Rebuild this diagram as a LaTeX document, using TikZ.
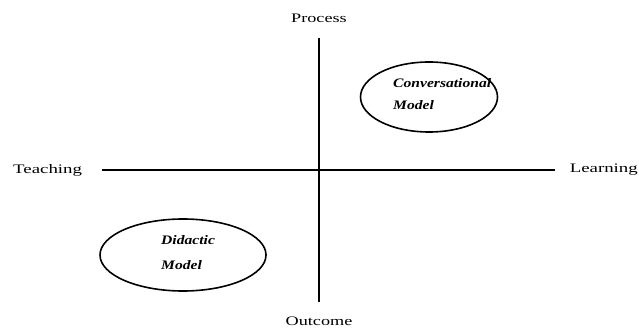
\documentclass[tikz,border=0pt]{standalone}
\usepackage{fontspec}
\setmainfont{Liberation Serif}
\usetikzlibrary{shapes.geometric}
\begin{document}
\begin{tikzpicture}[x=1pt,y=-1pt,
  axis/.style={line width=1.6pt},
  axislabel/.style={inner sep=0pt, font=\fontsize{13}{15}\selectfont},
  oval/.style={ellipse, draw, line width=1.6pt, inner sep=0pt},
  modeltext/.style={inner sep=0pt, anchor=base west, align=left,
    font=\fontsize{13}{22}\selectfont\bfseries\itshape}]
  \useasboundingbox (0,0) rectangle (639,336);
  % axis labels
  \node[axislabel] (process) at (319,18) {\scalebox{1.4}[1]{Process}};
  \node[axislabel] (outcome) at (319,321) {\scalebox{1.4}[1]{Outcome}};
  \node[axislabel, anchor=west] (teaching) at (13,170) {\scalebox{1.45}[1]{Teaching}};
  \node[axislabel, anchor=east] (learning) at (638,170) {\scalebox{1.45}[1]{Learning}};
  % axis end points
  \coordinate (top) at (319,38);
  \coordinate (bottom) at (319,302);
  \coordinate (left) at (102,170);
  \coordinate (right) at (555,170);
  \draw[axis] (top) -- (bottom);
  \draw[axis] (left) -- (right);
  % the two models (anchored on the baseline of the last line)
  \node[oval, minimum width=137, minimum height=70] (conv) at (429,97) {};
  \node[modeltext] (convtext) at (393,110) {\scalebox{1.2}[1]{Conversational}\\\scalebox{1.2}[1]{Model}};
  \node[oval, minimum width=166, minimum height=72] (did) at (183,255) {};
  \node[modeltext, font=\fontsize{13}{25}\selectfont\bfseries\itshape] (didtext) at (161,270) {\scalebox{1.2}[1]{Didactic}\\\scalebox{1.2}[1]{Model}};
\end{tikzpicture}
\end{document}
